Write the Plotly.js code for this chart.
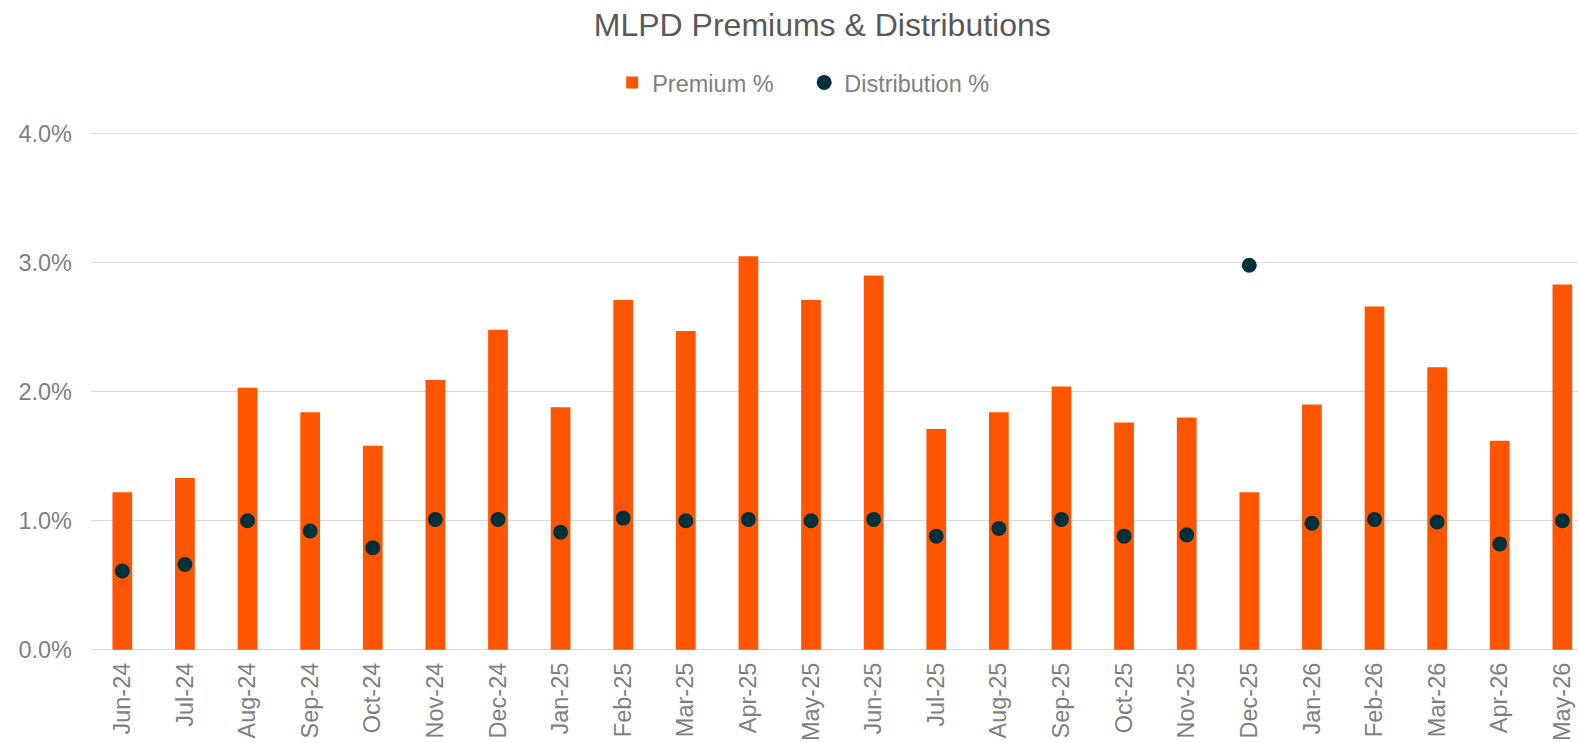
<!DOCTYPE html>
<html>
<head>
<meta charset="utf-8">
<script src="https://cdn.plot.ly/plotly-3.0.1.min.js"></script>
<style>
  html, body { margin: 0; padding: 0; background: #ffffff; overflow: hidden; }
  #chart { width: 1578px; height: 743px; }
</style>
</head>
<body>
<div id="chart"></div>
<script>
// ---- Data ----
const months = ["Jun-24","Jul-24","Aug-24","Sep-24","Oct-24","Nov-24","Dec-24","Jan-25",
                "Feb-25","Mar-25","Apr-25","May-25","Jun-25","Jul-25","Aug-25","Sep-25",
                "Oct-25","Nov-25","Dec-25","Jan-26","Feb-26","Mar-26","Apr-26","May-26"];

const premiumPct = [1.22, 1.33, 2.03, 1.84, 1.58, 2.09, 2.48, 1.88,
                    2.71, 2.47, 3.05, 2.71, 2.90, 1.71, 1.84, 2.04,
                    1.76, 1.80, 1.22, 1.90, 2.66, 2.19, 1.62, 2.83];

const distributionPct = [0.61, 0.66, 1.00, 0.92, 0.79, 1.01, 1.01, 0.91,
                         1.02, 1.00, 1.01, 1.00, 1.01, 0.88, 0.94, 1.01,
                         0.88, 0.89, 2.98, 0.98, 1.01, 0.99, 0.82, 1.00];

const yTickVals = [0, 1, 2, 3, 4];
const yTickText = ["0.0%", "1.0%", "2.0%", "3.0%", "4.0%"];

const chartTitle = "MLPD Premiums & Distributions";

// ---- Styles ----
const ORANGE = "#FF5500";
const DARK = "#00313A";
const FONT = "Liberation Sans, Arial, sans-serif";
const GREY_TEXT = "#7F7F7F";
const TITLE_TEXT = "#595959";

const traces = [
  {
    type: "bar",
    name: "Premium %",
    x: months,
    y: premiumPct,
    width: 0.315,
    marker: { color: ORANGE, line: { width: 0 } },
    hoverinfo: "x+y"
  },
  {
    type: "scatter",
    mode: "markers",
    name: "Distribution %",
    x: months,
    y: distributionPct,
    marker: { color: DARK, size: 15 },
    cliponaxis: false,
    hoverinfo: "x+y"
  }
];

const layout = {
  width: 1578,
  height: 743,
  paper_bgcolor: "#ffffff",
  plot_bgcolor: "#ffffff",
  margin: { l: 91, r: 0, t: 131, b: 91.7, pad: 0 },
  font: { family: FONT, color: GREY_TEXT, size: 23.5 },
  title: {
    text: chartTitle,
    font: { family: FONT, size: 32, color: TITLE_TEXT },
    xref: "container", x: 0.5211, xanchor: "center",
    yref: "container", y: 0.967, yanchor: "middle"
  },
  showlegend: true,
  legend: {
    orientation: "h",
    xref: "paper", x: 0.3505, xanchor: "left",
    yref: "paper", y: 1.093, yanchor: "middle",
    font: { family: FONT, size: 23.5, color: GREY_TEXT },
    bgcolor: "rgba(0,0,0,0)",
    entrywidth: 147,
    entrywidthmode: "pixels",
    traceorder: "normal"
  },
  xaxis: {
    type: "category",
    categoryorder: "array",
    categoryarray: months,
    range: [-0.5, 23.25],
    tickangle: -90,
    showgrid: false,
    zeroline: false,
    showline: false,
    ticks: "",
    ticklabelstandoff: 6,
    tickfont: { family: FONT, size: 23.5, color: GREY_TEXT },
    fixedrange: true
  },
  yaxis: {
    range: [-0.01, 4.02],
    tickvals: yTickVals,
    ticktext: yTickText,
    showgrid: true,
    gridcolor: "#D9D9D9",
    gridwidth: 1.5,
    zeroline: false,
    showline: false,
    ticks: "",
    ticklabelstandoff: 18,
    tickfont: { family: FONT, size: 23.5, color: GREY_TEXT },
    fixedrange: true
  },
  bargap: 0.6
};

Plotly.newPlot("chart", traces, layout, { displayModeBar: false, staticPlot: true });
</script>
</body>
</html>
